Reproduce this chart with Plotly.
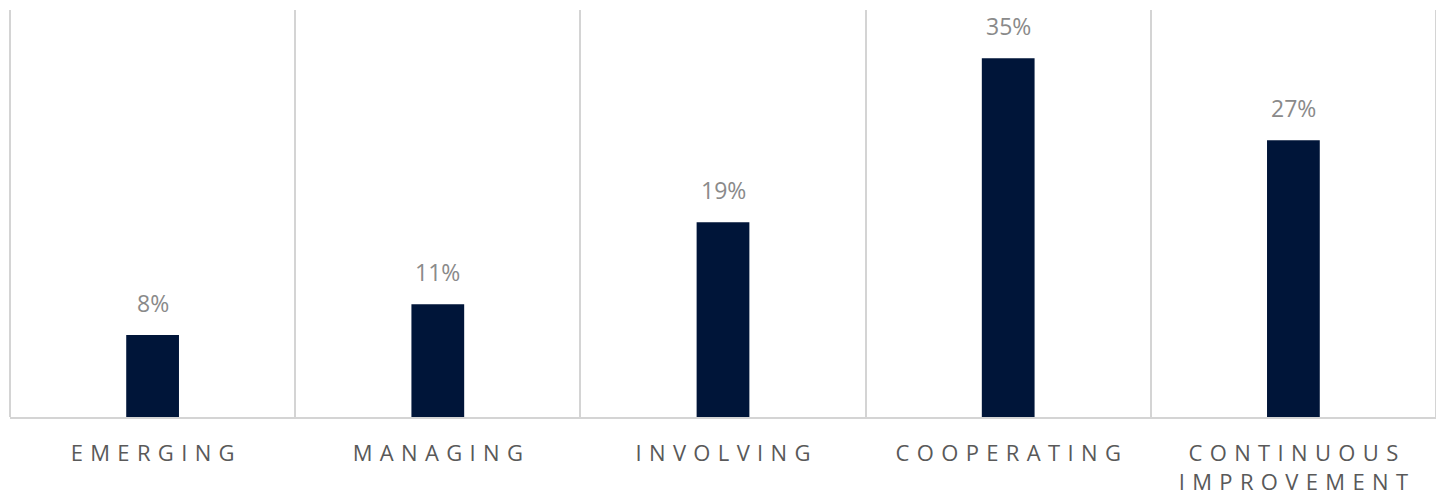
import plotly.graph_objects as go

categories = ["EMERGING", "MANAGING", "INVOLVING", "COOPERATING", "CONTINUOUS IMPROVEMENT"]
values = [8, 11, 19, 35, 27]
value_labels = ["8%", "11%", "19%", "35%", "27%"]

SP = "\u2006\u2006"

def spaced(label):
    lines = label.split(" ")
    return "<br>".join(SP.join(list(w)) for w in lines)

tick_text = [spaced(c) for c in categories]

fig = go.Figure()
fig.add_trace(go.Bar(
    x=categories, y=values,
    marker=dict(color="#001539", line=dict(width=0)),
    width=0.185,
    hoverinfo="skip",
))

for c, v, t in zip(categories, values, value_labels):
    fig.add_annotation(x=c, y=v, text=t, showarrow=False, yanchor="bottom",
                       yshift=14, font=dict(family="Open Sans", size=23, color="#8a8a8a"))

fig.update_layout(
    width=1444, height=502,
    margin=dict(l=2, r=16, t=2, b=93),
    paper_bgcolor="white", plot_bgcolor="white",
    showlegend=False,
)
fig.update_xaxes(
    type="category",
    tickvals=categories, ticktext=tick_text,
    tickson="boundaries",
    showgrid=True, gridcolor="#d4d4d4", gridwidth=2,
    showline=True, linecolor="#d4d4d4", linewidth=2,
    ticks="", ticklabelstandoff=16,
    tickfont=dict(family="Open Sans", size=22, color="#595959"),
    range=[-0.5, 4.5], automargin=False,
)
fig.update_yaxes(
    range=[0, 39.7], showgrid=False, zeroline=False,
    showticklabels=False, showline=False,
)
fig.add_shape(type="line", xref="paper", yref="paper", x0=0, x1=0, y0=0, y1=1,
              line=dict(color="#d4d4d4", width=2))
fig.add_shape(type="line", xref="paper", yref="paper", x0=1, x1=1, y0=0, y1=1,
              line=dict(color="#d4d4d4", width=2))

fig.write_html("out.html")
